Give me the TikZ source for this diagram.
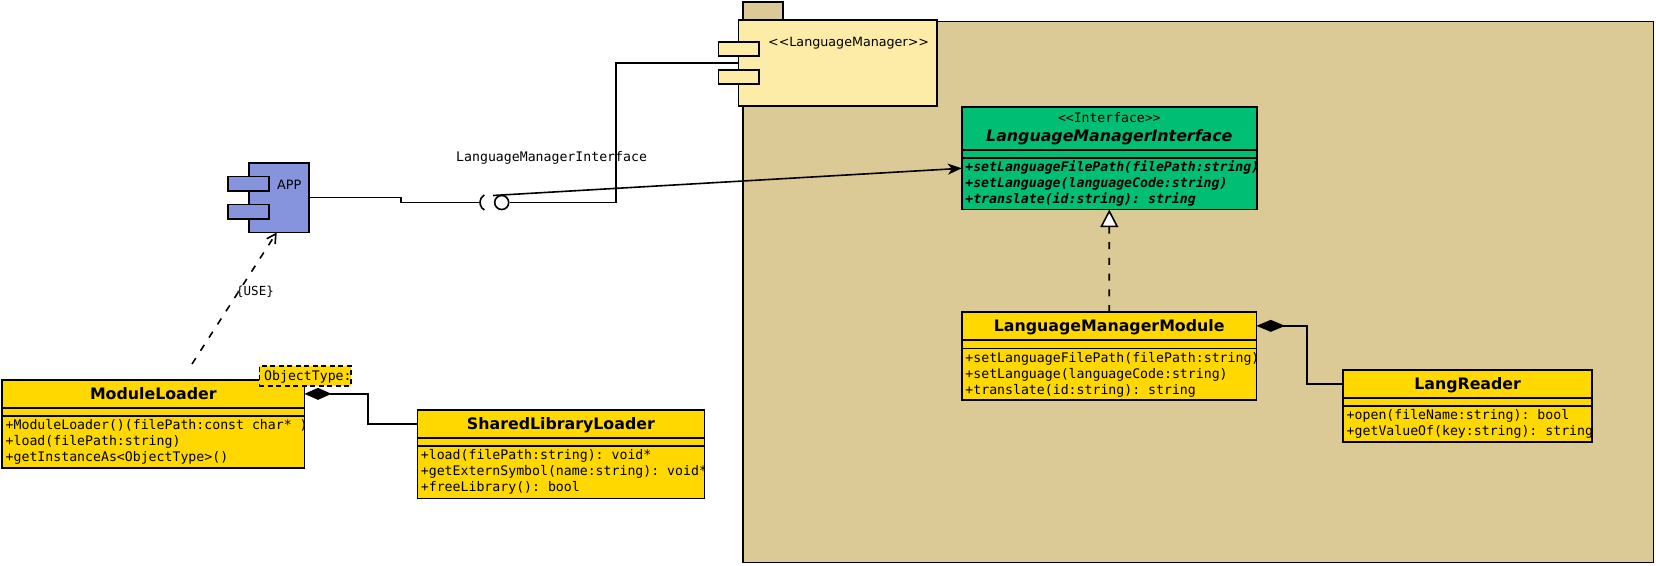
\documentclass[tikz,border=0pt]{standalone}
\usepackage{fontspec}
\setmainfont{DejaVu Sans}
\setsansfont{DejaVu Sans}
\setmonofont{DejaVu Sans Mono}
\usetikzlibrary{arrows.meta,calc}
\definecolor{pkgc}{RGB}{219,202,149}
\definecolor{lmcc}{RGB}{253,235,168}
\definecolor{yel}{RGB}{255,216,0}
\definecolor{grn}{RGB}{0,190,116}
\definecolor{appc}{RGB}{134,148,222}
\tikzset{
  bx/.style={draw, line width=1.6pt, inner sep=0pt, outer sep=0pt, rectangle},
  cn/.style={font=\sffamily\bfseries\fontsize{15.8}{18}\selectfont, text height=11.5pt, text depth=0pt},
  mt/.style={font=\ttfamily\fontsize{13.2}{16}\selectfont, inner sep=0pt, outer sep=0pt, anchor=base west},
  mti/.style={mt, font=\ttfamily\bfseries\itshape\fontsize{13.2}{16}\selectfont},
  ln/.style={line width=1.6pt},
  dsh/.style={line width=1.6pt, dash pattern=on 7pt off 8.7pt},
}
\begin{document}
\begin{tikzpicture}[x=1pt,y=-1pt]
\useasboundingbox (0,0) rectangle (1656,565);

% package
\node[bx, fill=pkgc, minimum width=40pt, minimum height=19.8pt] (pkgtab) at (762.9,11.6) {};
\node[bx, fill=pkgc, minimum width=910.6pt, minimum height=541pt] (pkg) at (1198.2,292) {};

% LanguageManager component
\node[bx, fill=lmcc, minimum width=198.2pt, minimum height=86pt] (lmc) at (837.7,63) {};
\node[bx, fill=lmcc, minimum width=40.3pt, minimum height=14pt] (lmcp1) at ($(lmc.west)+(0,-14)$) {};
\node[bx, fill=lmcc, minimum width=40.3pt, minimum height=14pt] (lmcp2) at ($(lmc.west)+(0,14)$) {};
\node[font=\sffamily\fontsize{12.7}{15}\selectfont, inner sep=0pt, anchor=base west] (lmcl) at ($(lmc.north west)+(29.3,26.6)$) {<{}<LanguageManager>{}>};

% Interface
\node[bx, fill=grn, minimum width=295pt, minimum height=102.8pt] (iface) at (1109.3,158.1) {};
\node[bx, fill=grn, minimum width=295pt, minimum height=43.3pt, anchor=north] (ifh) at (iface.north) {};
\node[font=\ttfamily\fontsize{13.1}{15}\selectfont, inner sep=0pt, anchor=base] (ifst) at ($(ifh.north)+(0,15.5)$) {<{}<Interface>{}>};
\node[font=\sffamily\bfseries\itshape\fontsize{15.8}{18}\selectfont, inner sep=0pt, anchor=base] (ifn) at ($(ifh.north)+(0,34.75)$) {LanguageManagerInterface};
\node[bx, minimum width=295pt, minimum height=7.7pt, anchor=north] (ifa) at (ifh.south) {};
\begin{scope}
\clip ($(iface.north west)+(0.8,0)$) rectangle ($(iface.south east)+(-0.8,0)$);
\node[mti] (if1) at ($(ifa.south west)+(3.5,13.8)$) {+setLanguageFilePath(filePath:string)};
\node[mti] (if2) at ($(if1.base west)+(0,16)$) {+setLanguage(languageCode:string)};
\node[mti] (if3) at ($(if2.base west)+(0,16)$) {+translate(id:string): string};
\end{scope}

% LanguageManagerModule
\node[bx, fill=yel, minimum width=294.6pt, minimum height=88pt] (lmm) at (1109.2,356) {};
\node[bx, fill=yel, cn, minimum width=294.6pt, minimum height=27.7pt, anchor=north] (lmmh) at (lmm.north) {LanguageManagerModule};
\node[bx, minimum width=294.6pt, minimum height=8.6pt, anchor=north] (lmma) at (lmmh.south) {};
\begin{scope}
\clip ($(lmm.north west)+(0.8,0)$) rectangle ($(lmm.south east)+(-0.8,0)$);
\node[mt] (lmm1) at ($(lmma.south west)+(3.5,13.8)$) {+setLanguageFilePath(filePath:string)};
\node[mt] (lmm2) at ($(lmm1.base west)+(0,16)$) {+setLanguage(languageCode:string)};
\node[mt] (lmm3) at ($(lmm2.base west)+(0,16)$) {+translate(id:string): string};
\end{scope}

% LangReader
\node[bx, fill=yel, minimum width=248.8pt, minimum height=71.7pt] (lr) at (1467.6,405.85) {};
\node[bx, fill=yel, cn, minimum width=248.8pt, minimum height=27.7pt, anchor=north] (lrh) at (lr.north) {LangReader};
\node[bx, minimum width=248.8pt, minimum height=8.3pt, anchor=north] (lra) at (lrh.south) {};
\begin{scope}
\clip ($(lr.north west)+(0.8,0)$) rectangle ($(lr.south east)+(-0.8,0)$);
\node[mt] (lr1) at ($(lra.south west)+(3.5,13.8)$) {+open(fileName:string): bool};
\node[mt] (lr2) at ($(lr1.base west)+(0,16)$) {+getValueOf(key:string): string};
\end{scope}

% APP component
\node[bx, fill=appc, minimum width=60.2pt, minimum height=69.8pt] (app) at (278.8,197.6) {};
\node[bx, fill=appc, minimum width=41pt, minimum height=14.3pt] (appp1) at ($(app.west)+(0,-14)$) {};
\node[bx, fill=appc, minimum width=41pt, minimum height=14.3pt] (appp2) at ($(app.west)+(0,14)$) {};
\node[font=\sffamily\fontsize{12.8}{15}\selectfont, inner sep=0pt, anchor=base] (appl) at (289.3,189) {APP};

% ModuleLoader
\node[bx, fill=yel, minimum width=302.3pt, minimum height=87.7pt] (ml) at (153.35,423.85) {};
\node[bx, fill=yel, cn, minimum width=302.3pt, minimum height=27.7pt, anchor=north] (mlh) at (ml.north) {ModuleLoader};
\node[bx, minimum width=302.3pt, minimum height=8.3pt, anchor=north] (mla) at (mlh.south) {};
\begin{scope}
\clip ($(ml.north west)+(0.8,0)$) rectangle ($(ml.south east)+(-0.8,0)$);
\node[mt] (ml1) at ($(mla.south west)+(3.5,13.8)$) {+ModuleLoader()(filePath:const char* )};
\node[mt] (ml2) at ($(ml1.base west)+(0,16)$) {+load(filePath:string)};
\node[mt] (ml3) at ($(ml2.base west)+(0,16)$) {+getInstanceAs<ObjectType>()};
\end{scope}

% template parameter
\node[draw, line width=1.6pt, dash pattern=on 5pt off 3.5pt, fill=yel, minimum width=91.7pt, minimum height=19.7pt, inner sep=0pt] (ot) at (305.15,375.85) {};
\begin{scope}
\clip ($(ot.north west)+(0.8,0.8)$) rectangle ($(ot.south east)+(-0.8,-0.8)$);
\node[mt] (otl) at ($(ot.west)+(5.7,4.2)$) {ObjectType:};
\end{scope}

% SharedLibraryLoader
\node[bx, fill=yel, minimum width=287pt, minimum height=88.3pt] (sll) at (560.9,454.15) {};
\node[bx, fill=yel, cn, minimum width=287pt, minimum height=27.7pt, anchor=north] (sllh) at (sll.north) {SharedLibraryLoader};
\node[bx, minimum width=287pt, minimum height=8.3pt, anchor=north] (slla) at (sllh.south) {};
\begin{scope}
\clip ($(sll.north west)+(0.8,0)$) rectangle ($(sll.south east)+(-0.8,0)$);
\node[mt] (sll1) at ($(slla.south west)+(3.5,13.8)$) {+load(filePath:string): void*};
\node[mt] (sll2) at ($(sll1.base west)+(0,16)$) {+getExternSymbol(name:string): void*};
\node[mt] (sll3) at ($(sll2.base west)+(0,16)$) {+freeLibrary(): bool};
\end{scope}

% interface socket / lollipop
\coordinate (sock) at (480,202.5);
\node[draw, line width=1.6pt, circle, minimum size=14pt, inner sep=0pt] (lol) at (501.7,202.5) {};
\coordinate (bend) at (616,202.5);
\coordinate (lolt) at (493,195.5);

\draw[ln] (app.east) -- ++(92.1,0) |- (sock);
\draw[ln] ($(sock)+(4.35,7.53)$) arc[start angle=120, end angle=240, radius=8.7];
\draw[ln] (lol.east) -- (bend) |- (lmc.west);
\draw[ln, -{Stealth[length=14pt,width=11pt,inset=4pt]}] (lolt) -- ($(iface.north west)+(0,61.6)$);
\node[font=\ttfamily\fontsize{13.2}{16}\selectfont, inner sep=0pt, anchor=base] (ifl) at (551.6,161) {LanguageManagerInterface};

% dependency
\coordinate (dep0) at (192,364);
\draw[dsh, -{Straight Barb[length=9pt,width=10pt]}] (dep0) -- ($(app.south west)+(28,0)$);
\node[font=\ttfamily\fontsize{12.5}{15}\selectfont, inner sep=0pt, anchor=base] (use) at (255,295) {\{USE\}};

% realization
\draw[dsh, -{Triangle[length=17.7pt,width=18pt,fill=white]}] (lmm.north) -- (iface.south);

% compositions
\draw[ln, {Diamond[length=27pt,width=12pt]}-] (mlh.east) -- ++(63.5,0) |- (sllh.west);
\draw[ln, {Diamond[length=28.5pt,width=12pt]}-] (lmmh.east) -- ++(50.5,0) |- (lrh.west);
\end{tikzpicture}
\end{document}
